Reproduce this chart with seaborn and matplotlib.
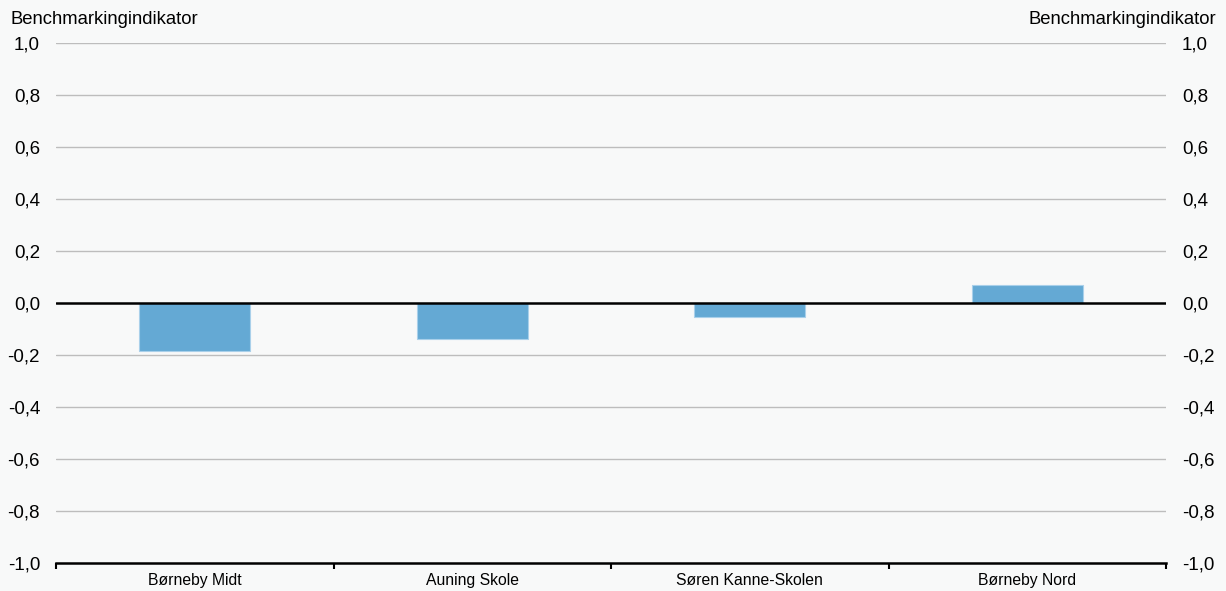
import pandas as pd
import numpy as np
import matplotlib
matplotlib.use('Agg')
import matplotlib.pyplot as plt
import seaborn as sns
from matplotlib.ticker import FixedLocator, FuncFormatter

# data
schools = ['Børneby Midt', 'Auning Skole', 'Søren Kanne-Skolen', 'Børneby Nord']
values = [-0.185, -0.14, -0.055, 0.068]
y_ticks = [-1.0, -0.8, -0.6, -0.4, -0.2, 0.0, 0.2, 0.4, 0.6, 0.8, 1.0]

df = pd.DataFrame({'school': schools, 'value': values})

sns.set_style('white')
plt.rcParams['font.family'] = ['Liberation Sans', 'DejaVu Sans']
plt.rcParams['text.color'] = 'black'
bg = '#f8f9f9'

fig = plt.figure(figsize=(12.26, 5.91), dpi=100, facecolor=bg)
ax = fig.add_axes([56 / 1226, 1 - 563 / 591, 1110 / 1226, 520 / 591])
ax.set_facecolor(bg)

sns.barplot(data=df, x='school', y='value', color='#64a9d4', width=0.4,
            edgecolor='#a9d0ea', linewidth=0.8, saturation=1, ax=ax, zorder=3)

ax.set_xlim(-0.5, len(schools) - 0.5)
ax.set_ylim(-1.0, 1.0)
ax.set_yticks(y_ticks)
fmt = FuncFormatter(lambda v, p: f'{v:.1f}'.replace('.', ','))
ax.yaxis.set_major_formatter(fmt)
ax.tick_params(axis='y', length=0, labelsize=13.5, pad=11.5, labelcolor='black',
               labelright=True, right=False, left=False)
for yv in y_ticks:
    if yv == -1.0 or yv == 0.0:
        continue
    ax.axhline(yv, color='#bdbdbd', linewidth=1, zorder=1)
ax.axhline(0, color='black', linewidth=1.8, zorder=4)

ax.xaxis.set_minor_locator(FixedLocator(np.arange(-0.5, len(schools), 1.0)))
ax.tick_params(axis='x', which='major', length=0, labelsize=11.3, pad=7, labelcolor='black')
ax.tick_params(axis='x', which='minor', bottom=True, length=4, width=1.5,
               color='black', direction='out')
ax.set_xlabel('')
ax.set_ylabel('')

for s in ['top', 'left', 'right']:
    ax.spines[s].set_visible(False)
ax.spines['bottom'].set_color('black')
ax.spines['bottom'].set_linewidth(1.8)
ax.spines['bottom'].set_zorder(5)

fig.text(10 / 1226, 1 - 20 / 591, 'Benchmarkingindikator', ha='left', va='center',
         fontsize=13.3, color='black')
fig.text(1216 / 1226, 1 - 20 / 591, 'Benchmarkingindikator', ha='right', va='center',
         fontsize=13.3, color='black')

fig.savefig('out.png', dpi=100, facecolor=bg)
